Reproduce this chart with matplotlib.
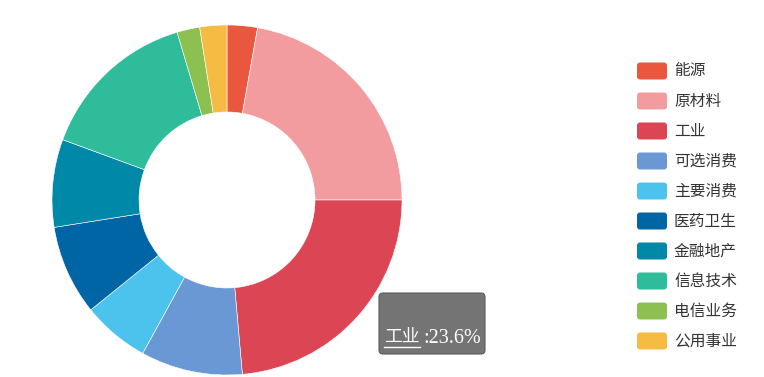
import numpy as np
import matplotlib.pyplot as plt
from matplotlib.patches import FancyBboxPatch

plt.rcParams['font.family'] = ['Noto Sans CJK SC', 'DejaVu Sans']

sectors = ['能源', '原材料', '工业', '可选消费', '主要消费', '医药卫生', '金融地产', '信息技术', '电信业务', '公用事业']
shares = [2.8, 22.2, 23.6, 9.4, 6.2, 8.3, 8.1, 14.8, 2.1, 2.5]
colors = ['#e9573f', '#f39c9f', '#dc4654', '#6a98d4', '#4cc3ec',
          '#0065a5', '#0088a8', '#2fbc9b', '#8cc152', '#f6bb42']
hover = 2  # 工业

W, H = 764, 377
fig = plt.figure(figsize=(W / 100, H / 100), dpi=100)
ax = fig.add_axes([0, 0, 1, 1])

cx, cy, r_out, r_in = 227, H - 200, 175, 88
ax.pie(shares, colors=colors, startangle=90, counterclock=False,
       center=(cx, cy), radius=r_out, frame=True,
       wedgeprops=dict(width=r_out - r_in, edgecolor='white', linewidth=0.4))
ax.set_xlim(0, W)
ax.set_ylim(0, H)
ax.set_aspect('equal')
ax.axis('off')

# legend
for i, (name, c) in enumerate(zip(sectors, colors)):
    y = H - (71 + 30 * i)
    ax.add_patch(FancyBboxPatch((637, y - 8.5), 30, 17, boxstyle='round,pad=0,rounding_size=3',
                                fc=c, ec='none'))
    ax.text(674, y, name, fontsize=11.3, color='#333333', va='center', ha='left')

# tooltip
ax.add_patch(FancyBboxPatch((379, H - 354), 106, 61, boxstyle='round,pad=0,rounding_size=4',
                            fc='#6f6f6f', ec='#5a5a5a', lw=0.8, alpha=0.97))
ax.text(384, H - 343, sectors[hover], fontsize=12.8, color='white', va='baseline', ha='left')
ax.plot([384, 420], [H - 346.5, H - 346.5], color='white', lw=1)
ax.text(423, H - 343, ':%.1f%%' % shares[hover], fontsize=14.5, color='white',
        va='baseline', ha='left', family='Liberation Serif')

fig.savefig('out.png', dpi=100)
